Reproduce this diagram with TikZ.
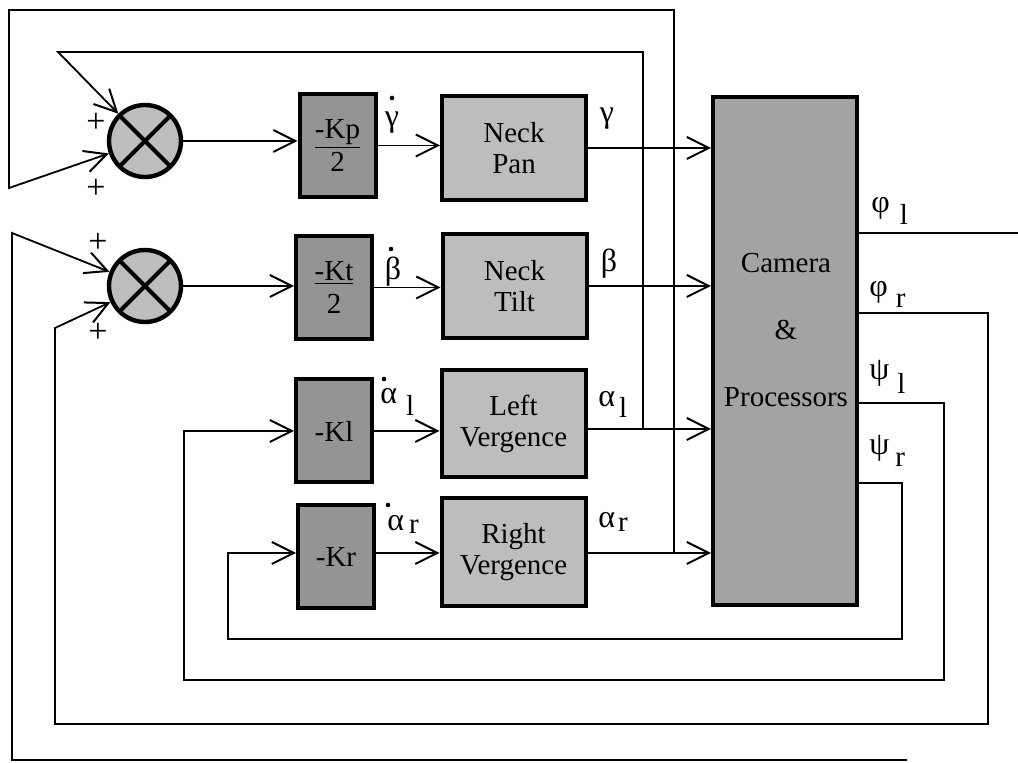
\documentclass[tikz,border=0pt]{standalone}
\usepackage{fontspec}
\setmainfont{Liberation Serif}
\usetikzlibrary{arrows.meta,calc}
\definecolor{gainfill}{gray}{0.58}
\definecolor{plantfill}{gray}{0.74}
\definecolor{camfill}{gray}{0.64}
\definecolor{sumfill}{gray}{0.74}
\newcommand\gk[1]{{\fontsize{16}{18}\selectfont #1}}
\newcommand\gsub[4]{\gk{#1}\kern#2\raisebox{#3}{#4}}
\tikzset{
  txt/.style={font=\fontsize{14.5}{15.5}\selectfont},
  gainbox/.style={draw, line width=2pt, fill=gainfill, inner sep=0pt, align=center, txt,
     minimum width=38pt, minimum height=51.5pt},
  plantbox/.style={draw, line width=2pt, fill=plantfill, inner sep=0pt, align=center, txt,
     minimum width=72pt, minimum height=52pt},
  cambox/.style={draw, line width=2pt, fill=camfill, inner sep=0pt,
     minimum width=72pt, minimum height=254pt},
  sumnode/.style={circle, draw, line width=2.2pt, fill=sumfill, minimum size=36pt, inner sep=0pt,
     path picture={\draw[line width=2pt] (path picture bounding box.north west) -- (path picture bounding box.south east)
       (path picture bounding box.north east) -- (path picture bounding box.south west);}},
  lbl/.style={txt, inner sep=0pt},
  sgn/.style={font=\fontsize{17}{18}\selectfont, inner sep=0pt},
  wire/.style={line width=0.9pt},
  arrowline/.style={wire, -{Straight Barb[length=11pt,width=11pt,line width=1pt]}},
}
\begin{document}
\begin{tikzpicture}[x=0.5pt,y=-0.5pt]
\useasboundingbox (0,0) rectangle (1018,763);
% summing junctions
\node[sumnode] (sum1) at (145,141) {};
\node[sumnode] (sum2) at (145,286) {};
% gains
\node[gainbox] (kp) at (337.5,145.5) {\underline{-Kp}\\[1pt]2};
\node[gainbox] (kt) at (334,287.5) {\underline{-Kt}\\[1pt]2};
\node[gainbox] (kl) at (334,431) {-Kl};
\node[gainbox] (kr) at (336,557) {-Kr};
% plants
\node[plantbox] (pan) at (514,148) {Neck\\Pan};
\node[plantbox] (tilt) at (514.5,286) {Neck\\Tilt};
\node[plantbox, minimum height=53.5pt] (lv) at (513.5,423.5) {Left\\Vergence};
\node[plantbox, minimum height=54pt] (rv) at (513.5,552) {Right\\Vergence};
% camera
\node[cambox] (cam) at (785,351) {};
\node[lbl, align=center, font=\fontsize{14.5}{33.5}\selectfont] (camtxt) at (786,330) {Camera\\\&\\Processors};
% signs
\node[sgn] (p1) at (96,123) {+};
\node[sgn] (p2) at (96,189) {+};
\node[sgn] (p3) at (98,243) {+};
\node[sgn] (p4) at (98,333) {+};
% signal labels (derivatives: dot drawn above the letter)
\node[lbl] (lgd) at (392,123) {\gk{γ}};
\node[lbl] (lbd) at (393,272) {\gk{β}};
\node[lbl, anchor=base west] (lald) at (380,404) {\gsub{α}{4.5pt}{-6pt}{l}};
\node[lbl, anchor=base west] (lard) at (387,531) {\gsub{α}{2.5pt}{-1.5pt}{r}};
\fill (392,98) circle (2.3);
\fill (391,249) circle (2.3);
\fill (384,379) circle (2.3);
\fill (388,505) circle (2.3);
\node[lbl] (lg) at (607,119) {\gk{γ}};
\node[lbl] (lb) at (609,264) {\gk{β}};
\node[lbl, anchor=base west] (lal) at (598,407) {\gsub{α}{2pt}{-5.5pt}{l}};
\node[lbl, anchor=base west] (lar) at (598,528) {\gsub{α}{1.5pt}{-2pt}{r}};
\node[lbl, anchor=base west] (lphl) at (871,213) {\gsub{φ}{5pt}{-6pt}{l}};
\node[lbl, anchor=base west] (lphr) at (869,297) {\gsub{φ}{4pt}{-5.5pt}{r}};
\node[lbl, anchor=base west] (lpsl) at (869,380) {\gsub{ψ}{4pt}{-7pt}{l}};
\node[lbl, anchor=base west] (lpsr) at (869,455) {\gsub{ψ}{3pt}{-6pt}{r}};
% forward paths
\draw[arrowline] (sum1) -- (sum1 -| kp.west);
\draw[arrowline] (kp) -- (kp -| pan.west);
\draw[arrowline] (pan) -- (pan -| cam.west);
\draw[arrowline] (sum2) -- (sum2 -| kt.west);
\draw[arrowline] (kt) -- (kt -| tilt.west);
\draw[arrowline] (tilt) -- (tilt -| cam.west);
\draw[arrowline] (kl) -- (kl -| lv.west);
\coordinate (jl) at (643,429);
\draw[arrowline] (jl -| lv.east) -- (jl -| cam.west);
\coordinate (kin) at (228,553);
\draw[arrowline] (kr.east |- kin) -- (rv.west |- kin);
\coordinate (jr) at (674,553);
\draw[arrowline] (jr -| rv.east) -- (jr -| cam.west);
% feedback of vergence to pan
\draw[arrowline] (jl) -- (643,52) -- (58,52) -- (sum1);
\draw[arrowline] (jr) -- (674,10) -- (9,10) -- (9,188) -- (sum1);
% phi_l
\coordinate (edge) at (1018,233);
\draw[wire] (cam.east |- edge) -- (edge);
\coordinate (bend) at (907,760);
\draw[arrowline] (bend) -- (12,760) -- (12,233) -- (sum2);
% phi_r
\draw[arrowline] (cam.east |- 0,313) -- (988,313) -- (988,724) -- (55,724) -- (55,328) -- (sum2);
% psi_l
\draw[arrowline] (cam.east |- 0,403) -- (944,403) -- (944,680) -- (184,680) |- (kl.west);
% psi_r
\draw[arrowline] (cam.east |- 0,483) -- (902,483) -- (902,639) -- (228,639) -- (kin) -- (kin -| kr.west);
\end{tikzpicture}
\end{document}
